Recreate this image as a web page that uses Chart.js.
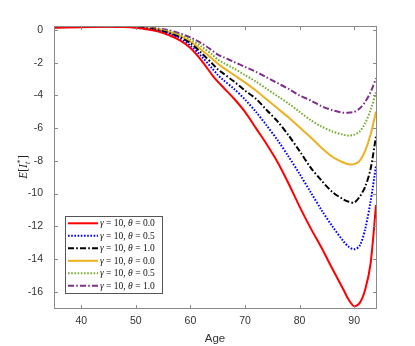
<!DOCTYPE html>
<html>
<head>
<meta charset="utf-8">
<script src="https://cdn.jsdelivr.net/npm/chart.js@4.4.1/dist/chart.umd.min.js"></script>
<style>
  html, body { margin: 0; padding: 0; background: #fff; }
</style>
</head>
<body>
<canvas id="chart" width="415" height="346"></canvas>
<script>
// Ages on the x axis
const ages = [35, 40, 45, 50, 52, 54, 56, 58, 60, 62, 64, 65, 66, 68, 70, 72, 74, 76, 78, 80, 82, 84, 86, 88, 89, 90, 91, 92, 93, 94];

// Series values
const redTheta00 = [0.15, 0.18, 0.2, 0.15, 0.05, -0.08, -0.3, -0.62, -1.1, -1.85, -2.75, -3.15, -3.5, -4.2, -5.0, -6.0, -7.0, -8.1, -9.4, -10.8, -12.1, -13.3, -14.6, -15.85, -16.5, -16.9, -16.7, -15.9, -14.3, -10.7];
const blueTheta05 = [0.17, 0.2, 0.22, 0.17, 0.08, -0.04, -0.22, -0.5, -0.95, -1.6, -2.35, -2.74, -3.05, -3.6, -4.25, -5.0, -5.85, -6.75, -7.75, -8.8, -9.9, -11.0, -12.0, -12.9, -13.25, -13.4, -13.2, -12.2, -10.5, -8.3];
const blackTheta10 = [0.18, 0.21, 0.23, 0.18, 0.1, 0.0, -0.17, -0.42, -0.8, -1.4, -2.05, -2.4, -2.65, -3.15, -3.7, -4.2, -4.9, -5.6, -6.45, -7.4, -8.4, -9.2, -9.9, -10.35, -10.5, -10.55, -10.2, -9.6, -8.5, -6.5];
const orangeTheta00 = [0.19, 0.22, 0.24, 0.2, 0.12, 0.03, -0.12, -0.35, -0.7, -1.2, -1.75, -2.05, -2.3, -2.75, -3.2, -3.7, -4.25, -4.8, -5.35, -5.95, -6.55, -7.2, -7.75, -8.1, -8.2, -8.2, -8.0, -7.4, -6.4, -5.0];
const greenTheta05 = [0.2, 0.23, 0.25, 0.22, 0.15, 0.07, -0.07, -0.28, -0.58, -1.0, -1.5, -1.8, -2.0, -2.35, -2.75, -3.15, -3.6, -4.05, -4.5, -5.0, -5.5, -5.9, -6.2, -6.4, -6.45, -6.4, -6.2, -5.7, -4.9, -3.8];
const purpleTheta10 = [0.22, 0.25, 0.27, 0.24, 0.18, 0.1, 0.0, -0.2, -0.45, -0.8, -1.25, -1.5, -1.65, -1.95, -2.25, -2.55, -2.9, -3.25, -3.6, -4.0, -4.3, -4.65, -4.9, -5.05, -5.05, -5.0, -4.8, -4.4, -3.8, -2.95];

// Legend labels and tick values
const seriesLabels = [
  ['10', '0.0'], ['10', '0.5'], ['10', '1.0'],
  ['10', '0.0'], ['10', '0.5'], ['10', '1.0']
];
const xTicks = [40, 50, 60, 70, 80, 90];
const yTicks = [0, -2, -4, -6, -8, -10, -12, -14, -16];

const seriesValues = [redTheta00, blueTheta05, blackTheta10, orangeTheta00, greenTheta05, purpleTheta10];
const colors = ['#ff0000', '#0000ff', '#000000', '#edb120', '#77ac30', '#7e2f8e'];
const dashes = [[], [1.6, 1.6], [6, 2.2, 1.6, 2.2], [], [1.6, 1.6], [6, 2.2, 1.6, 2.2]];
const widths = [2, 2, 2, 2, 2, 2];

const datasets = seriesValues.map((vals, i) => ({
  label: 'γ = ' + seriesLabels[i][0] + ', θ = ' + seriesLabels[i][1],
  data: ages.map((a, j) => ({ x: a, y: vals[j] })),
  borderColor: colors[i],
  backgroundColor: colors[i],
  borderWidth: widths[i],
  borderDash: dashes[i],
  pointRadius: 0,
  tension: 0.3,
  fill: false
}));

// Draws the MATLAB style box, inward ticks, the legend and the y title
const framePlugin = {
  id: 'frame',
  afterDraw(chart) {
    const ctx = chart.ctx;
    const area = chart.chartArea;
    const xs = chart.scales.x;
    const ys = chart.scales.y;
    const L = Math.round(area.left) + 0.5;
    const R = Math.round(area.right) + 0.5;
    const T = Math.round(area.top) + 0.5;
    const B = Math.round(area.bottom) + 0.5;

    ctx.save();
    ctx.strokeStyle = '#8a8a8a';
    ctx.lineWidth = 1;
    ctx.strokeRect(L, T, R - L, B - T);
    ctx.beginPath();
    xTicks.forEach(v => {
      const px = Math.round(xs.getPixelForValue(v)) + 0.5;
      ctx.moveTo(px, B); ctx.lineTo(px, B - 3.5);
      ctx.moveTo(px, T); ctx.lineTo(px, T + 3.5);
    });
    yTicks.forEach(v => {
      const py = Math.round(ys.getPixelForValue(v)) + 0.5;
      ctx.moveTo(L, py); ctx.lineTo(L + 3.5, py);
      ctx.moveTo(R, py); ctx.lineTo(R - 3.5, py);
    });
    ctx.stroke();

    // Legend box
    const lx = 65.5, ly = 216.5, lw = 97, lh = 77;
    ctx.fillStyle = '#fff';
    ctx.fillRect(lx, ly, lw, lh);
    ctx.strokeStyle = '#555';
    ctx.strokeRect(lx, ly, lw, lh);
    chart.data.datasets.forEach((ds, i) => {
      const y = 223.3 + i * 12.5;
      ctx.beginPath();
      ctx.strokeStyle = ds.borderColor;
      ctx.lineWidth = ds.borderWidth;
      ctx.setLineDash(ds.borderDash);
      ctx.moveTo(68, y); ctx.lineTo(98, y);
      ctx.stroke();
      ctx.setLineDash([]);
      // text segments: italic greek letters, upright rest
      const parts = [
        ['italic', 'γ'], ['normal', ' = ' + seriesLabels[i][0] + ', '],
        ['italic', 'θ'], ['normal', ' = ' + seriesLabels[i][1]]
      ];
      let tx = 100;
      ctx.fillStyle = '#111';
      ctx.textBaseline = 'middle';
      ctx.textAlign = 'left';
      parts.forEach(p => {
        ctx.font = p[0] + ' 9.5px "Liberation Serif", "DejaVu Serif", serif';
        ctx.fillText(p[1], tx, y + 0.5);
        tx += ctx.measureText(p[1]).width;
      });
    });

    // Y axis title E[I_t^*]
    ctx.translate(23, 167);
    ctx.rotate(-Math.PI / 2);
    ctx.fillStyle = '#222';
    ctx.textBaseline = 'alphabetic';
    const big = '11.5px "Liberation Serif", "DejaVu Serif", serif';
    const small = '8px "Liberation Serif", "DejaVu Serif", serif';
    const segs = [
      ['italic ' + big, 'E', 0], ['normal ' + big, '[', 0], ['italic ' + big, 'I', 0]
    ];
    let total = 0;
    segs.forEach(s => { ctx.font = s[0]; total += ctx.measureText(s[1]).width; });
    ctx.font = 'normal ' + small; const wsup = ctx.measureText('*').width;
    ctx.font = 'italic ' + small; const wsub = ctx.measureText('t').width;
    ctx.font = 'normal ' + big; const wclose = ctx.measureText(']').width;
    total += Math.max(wsup, wsub) + 1 + wclose;
    let x0 = -total / 2;
    segs.forEach(s => { ctx.font = s[0]; ctx.fillText(s[1], x0, 4); x0 += ctx.measureText(s[1]).width; });
    ctx.font = 'normal ' + small; ctx.fillText('*', x0 + 0.5, 0);
    ctx.font = 'italic ' + small; ctx.fillText('t', x0, 7);
    x0 += Math.max(wsup, wsub) + 1;
    ctx.font = 'normal ' + big; ctx.fillText(']', x0, 4);
    ctx.restore();
  }
};

new Chart(document.getElementById('chart'), {
  type: 'line',
  data: { datasets: datasets },
  plugins: [framePlugin],
  options: {
    responsive: false,
    animation: false,
    devicePixelRatio: 1,
    layout: { padding: { left: 0, top: 26, right: 39, bottom: 0 } },
    plugins: {
      legend: { display: false },
      tooltip: { enabled: false }
    },
    scales: {
      x: {
        type: 'linear',
        min: 35,
        max: 94,
        afterBuildTicks: s => { s.ticks = xTicks.map(v => ({ value: v })); },
        afterFit: s => { s.height = 38; },
        grid: { display: false, drawTicks: false },
        border: { display: false },
        ticks: {
          padding: 7,
          color: '#333',
          font: { family: '"Liberation Sans", Arial, sans-serif', size: 10.5 }
        },
        title: {
          display: true,
          text: 'Age',
          color: '#333',
          padding: { top: 0, bottom: 0 },
          font: { family: '"Liberation Sans", Arial, sans-serif', size: 11.5 }
        }
      },
      y: {
        type: 'linear',
        min: -17,
        max: 0.25,
        afterBuildTicks: s => { s.ticks = yTicks.map(v => ({ value: v })); },
        afterFit: s => { s.width = 54; },
        grid: { display: false, drawTicks: false },
        border: { display: false },
        ticks: {
          padding: 11,
          color: '#333',
          font: { family: '"Liberation Sans", Arial, sans-serif', size: 10.5 }
        }
      }
    }
  }
});
</script>
</body>
</html>
